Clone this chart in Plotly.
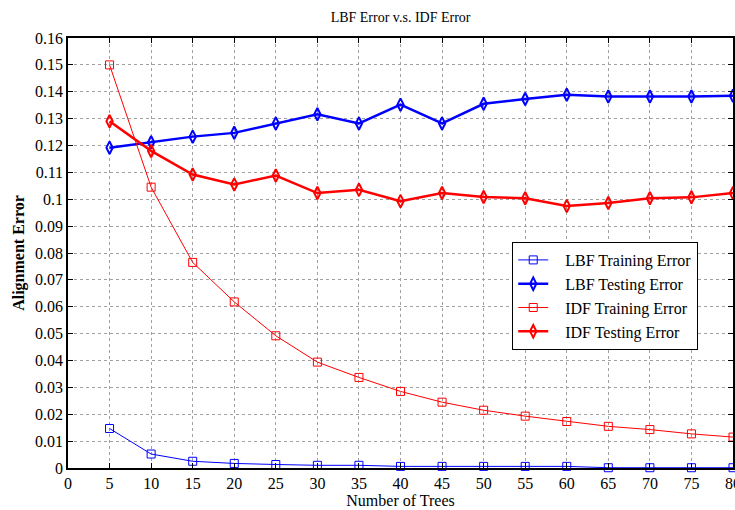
import plotly.graph_objects as go

trees = [5, 10, 15, 20, 25, 30, 35, 40, 45, 50, 55, 60, 65, 70, 75, 80]
lbf_train = [0.0147, 0.0052, 0.0025, 0.0017, 0.0013, 0.0010, 0.0010, 0.0006,
             0.0006, 0.0006, 0.0006, 0.0006, 0.0001, 0.0001, 0.0001, 0.0001]
lbf_test = [0.1192, 0.1212, 0.1233, 0.1247, 0.1282, 0.1316, 0.1282, 0.1352,
            0.1282, 0.1355, 0.1373, 0.1389, 0.1382, 0.1382, 0.1382, 0.1385]
idf_train = [0.150, 0.1045, 0.0765, 0.0618, 0.0492, 0.0394, 0.0337, 0.0285,
             0.0245, 0.0215, 0.0193, 0.0173, 0.0155, 0.0143, 0.0127, 0.0115]
idf_test = [0.1290, 0.1180, 0.1092, 0.1055, 0.1088, 0.1023, 0.1035, 0.0993,
            0.1023, 0.1008, 0.1004, 0.0975, 0.0986, 0.1004, 0.1007, 0.1023]

series_names = ["LBF Training Error", "LBF Testing Error", "IDF Training Error", "IDF Testing Error"]

x_ticks = list(range(0, 81, 5))
y_ticks = [i / 100 for i in range(0, 17)]
y_labels = ["0", "0.01", "0.02", "0.03", "0.04", "0.05", "0.06", "0.07", "0.08",
            "0.09", "0.1", "0.11", "0.12", "0.13", "0.14", "0.15", "0.16"]

BLUE = "#0000ff"
RED = "#ff0000"
FONT = "Liberation Serif"
PAD = "\u00a0\u00a0\u00a0"

fig = go.Figure()
fig.add_trace(go.Scatter(x=trees, y=lbf_train, name=PAD + series_names[0], mode="lines+markers",
                         line=dict(color=BLUE, width=1),
                         marker=dict(symbol="square-open", size=8, color=BLUE, line=dict(width=1)),
                         cliponaxis=False))
fig.add_trace(go.Scatter(x=trees, y=lbf_test, name=PAD + series_names[1], mode="lines+markers",
                         line=dict(color=BLUE, width=2.5),
                         marker=dict(symbol="diamond-tall-open", size=9, color=BLUE, line=dict(width=2)),
                         cliponaxis=False))
fig.add_trace(go.Scatter(x=trees, y=idf_train, name=PAD + series_names[2], mode="lines+markers",
                         line=dict(color=RED, width=1),
                         marker=dict(symbol="square-open", size=8, color=RED, line=dict(width=1)),
                         cliponaxis=False))
fig.add_trace(go.Scatter(x=trees, y=idf_test, name=PAD + series_names[3], mode="lines+markers",
                         line=dict(color=RED, width=2.5),
                         marker=dict(symbol="diamond-tall-open", size=9, color=RED, line=dict(width=2)),
                         cliponaxis=False))

axis_common = dict(showline=True, linecolor="black", linewidth=1.5, mirror="ticks",
                   ticks="inside", ticklen=5, tickcolor="black",
                   showgrid=True, gridcolor="#a0a0a0", gridwidth=1, griddash="dot",
                   zeroline=False, ticklabeloverflow="allow",
                   tickfont=dict(family=FONT, size=16, color="black"))

fig.update_layout(
    width=735, height=510,
    margin=dict(l=68, r=2, t=38, b=42),
    paper_bgcolor="white", plot_bgcolor="white",
    font=dict(family=FONT, color="black"),
    title=dict(text="LBF Error v.s. IDF Error", x=0.545, xanchor="center", y=0.967, yanchor="middle",
               font=dict(family=FONT, size=14, color="black")),
    xaxis=dict(range=[0, 80], tickvals=x_ticks, ticktext=[str(v) for v in x_ticks],
               title=dict(text="Number of Trees", font=dict(family=FONT, size=16), standoff=4),
               automargin=False, **axis_common),
    yaxis=dict(range=[0, 0.16], tickvals=y_ticks, ticktext=y_labels,
               title=dict(text="<b>Alignment Error</b>", font=dict(family=FONT, size=16), standoff=6),
               automargin=False, **axis_common),
    legend=dict(x=0.668, y=0.5256, xanchor="left", yanchor="top",
                bgcolor="white", bordercolor="black", borderwidth=1,
                font=dict(family=FONT, size=16, color="black"),
                tracegroupgap=0, itemwidth=30),
    showlegend=True,
)

fig.write_html("out.html")
